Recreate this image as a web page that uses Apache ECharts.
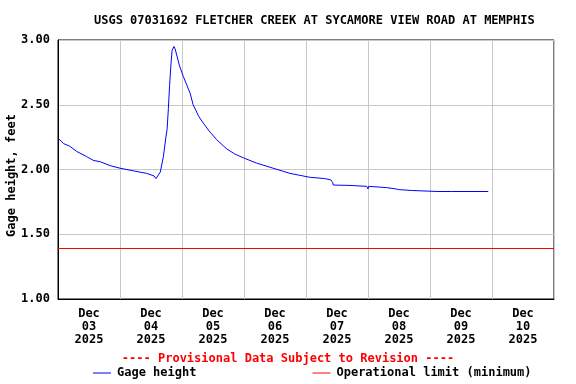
<!DOCTYPE html>
<html><head><meta charset="utf-8">
<script src="https://cdn.jsdelivr.net/npm/echarts@6/dist/echarts.min.js"></script>
<style>html,body{margin:0;padding:0;background:#fff}#c{width:576px;height:384px}</style>
</head><body><div id="c"></div>
<script>
const titleText = "USGS 07031692 FLETCHER CREEK AT SYCAMORE VIEW ROAD AT MEMPHIS";
const yAxisTitle = "Gage height, feet";
const dayLabels = ["Dec\n03\n2025","Dec\n04\n2025","Dec\n05\n2025","Dec\n06\n2025","Dec\n07\n2025","Dec\n08\n2025","Dec\n09\n2025","Dec\n10\n2025"];
// time in days since Dec 03 2025 00:00
const timeDays = [0.00,0.05,0.09,0.19,0.30,0.46,0.57,0.68,0.84,1.00,1.21,1.43,1.55,1.58,1.61,1.65,1.70,1.74,1.76,1.78,1.80,1.82,1.84,1.86,1.87,1.89,1.91,1.96,2.02,2.13,2.18,2.27,2.34,2.45,2.56,2.72,2.85,2.99,3.20,3.47,3.74,3.90,4.06,4.30,4.40,4.43,4.44,4.71,4.98,5.00,5.01,5.30,5.45,5.49,5.70,6.13,6.35,6.36,6.37,6.94];
const gageFt = [2.24,2.22,2.20,2.18,2.14,2.10,2.07,2.06,2.03,2.01,1.99,1.97,1.95,1.93,1.94,1.98,2.10,2.25,2.31,2.47,2.65,2.80,2.92,2.93,2.95,2.93,2.92,2.80,2.72,2.59,2.50,2.41,2.36,2.29,2.23,2.16,2.12,2.09,2.05,2.01,1.97,1.955,1.94,1.93,1.92,1.90,1.88,1.877,1.87,1.85,1.87,1.86,1.85,1.845,1.838,1.83,1.83,1.82,1.83,1.83];
const opLimit = 1.39;
const xRange = [0, 8];
const yTicks = [1.0, 1.5, 2.0, 2.5, 3.0];

const F = "'DejaVu Sans Mono', monospace";
const chart = echarts.init(document.getElementById('c'));
chart.setOption({
  animation: false,
  title: { text: titleText, left: 89, top: 10, textStyle: { fontFamily: F, fontSize: 12, fontWeight: 'bold', color: '#000' } },
  grid: { left: 58, right: 22, top: 40, bottom: 85, show: true, borderColor: '#000', borderWidth: 1, backgroundColor: 'transparent', containLabel: false, outerBoundsMode: 'none' },
  xAxis: [
    { type: 'category', data: dayLabels, boundaryGap: true, position: 'bottom',
      axisLine: { show: true, lineStyle: { color: '#000' } }, axisTick: { show: false },
      splitLine: { show: true, lineStyle: { color: '#c8c8c8', width: 1 } },
      axisLabel: { fontFamily: F, fontSize: 12, fontWeight: 'bold', color: '#000', lineHeight: 13, margin: 8, interval: 0 } },
    { type: 'value', min: xRange[0], max: xRange[1], show: false }
  ],
  yAxis: { type: 'value', min: yTicks[0], max: yTicks[yTicks.length-1], interval: 0.5,
    axisLine: { show: true, lineStyle: { color: '#000' } }, axisTick: { show: false },
    splitLine: { show: true, lineStyle: { color: '#c8c8c8', width: 1 } },
    axisLabel: { fontFamily: F, fontSize: 12, fontWeight: 'bold', color: '#000', margin: 8, formatter: v => v.toFixed(2) } },
  legend: { left: 88, top: 362, itemWidth: 18, itemHeight: 1, itemGap: 116,
    textStyle: { fontFamily: F, fontSize: 12, fontWeight: 'bold', color: '#000', padding: [0, 0, 0, 1] },
    data: [{ name: 'Gage height', icon: 'rect' }, { name: 'Operational limit (minimum)', icon: 'rect' }] },
  graphic: [
    { type: 'text', left: 'center', top: 353, x: 17,
      style: { text: '---- Provisional Data Subject to Revision ----', fill: '#ff0000', font: "bold 12px 'DejaVu Sans Mono', monospace" } },
    { type: 'text', x: 12, y: 175.5, rotation: Math.PI / 2,
      style: { text: yAxisTitle, fill: '#000', align: 'center', verticalAlign: 'middle', font: "bold 12px 'DejaVu Sans Mono', monospace" } }
  ],
  series: [
    { name: 'Gage height', type: 'line', xAxisIndex: 1, showSymbol: false, symbol: 'none',
      lineStyle: { color: '#0000ff', width: 1 }, itemStyle: { color: '#0000ff' },
      data: timeDays.map((t, i) => [t, gageFt[i]]) },
    { name: 'Operational limit (minimum)', type: 'line', xAxisIndex: 1, showSymbol: false, symbol: 'none',
      lineStyle: { color: '#ff0000', width: 1 }, itemStyle: { color: '#ff0000' },
      data: [[xRange[0], opLimit], [xRange[1], opLimit]] }
  ]
});
</script></body></html>
